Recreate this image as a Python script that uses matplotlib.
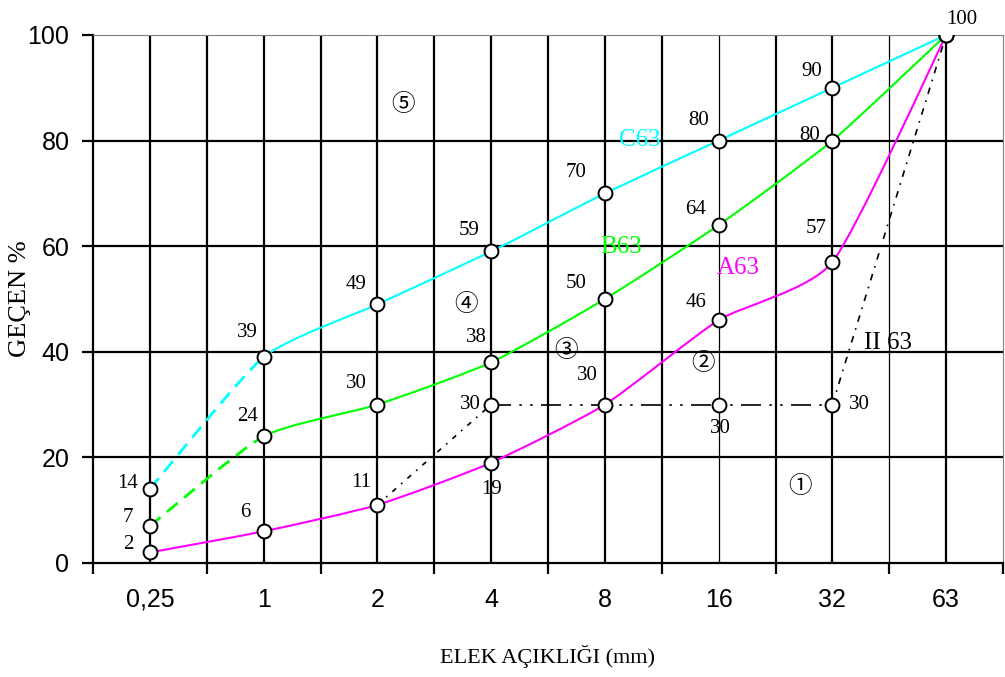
import numpy as np
import matplotlib
matplotlib.use("Agg")
import matplotlib.pyplot as plt
from matplotlib.path import Path
from matplotlib.patches import PathPatch

# sieve sizes (mm) and passing percentages
sieves = ["0,25", "1", "2", "4", "8", "16", "32", "63"]
a63 = [2, 6, 11, 19, 30, 46, 57, 100]
b63 = [7, 24, 30, 38, 50, 64, 80, 100]
c63 = [14, 39, 49, 59, 70, 80, 90, 100]
# discontinuous grading II 63: sieve index -> passing
ii_x = [2, 3, 4, 5, 6, 7]
ii_y = [11, 30, 30, 30, 30, 100]

# label offsets in pixels (dx, dy) for each value
off_c = [(-22, 6), (-16, 25), (-21, 20), (-22, 21), (-29, 21), (-20, 20), (-21, 16), (16, 15)]
off_b = [(-22, 9), (-16, 20), (-21, 21), (-15, 25), (-29, 16), (-23, 16), (-23, 5), None]
off_a = [(-22, 8), (-18, 19), (-16, 22), (0, -27), (-18, 29), (-23, 18), (-16, 34), None]

CYAN, GREEN, MAGENTA = "#00ffff", "#00ff00", "#ff00ff"
SERIF = ["Liberation Serif", "DejaVu Sans", "Noto Sans CJK JP"]

fig = plt.figure(figsize=(10.05, 6.77), dpi=100)
ax = fig.add_axes([93 / 1005, 114 / 677, 910 / 1005, 528 / 677])
ax.set_xlim(-0.5, 7.5)
ax.set_ylim(0, 100)


def smooth_segments(xs, ys, k=10.0):
    # soft catmull-rom segments as cubic bezier control points
    p = np.column_stack([xs, ys]).astype(float)
    p = np.vstack([p[0], p, p[-1]])
    segs = []
    for i in range(1, len(p) - 2):
        c1 = p[i] + (p[i + 1] - p[i - 1]) / k
        c2 = p[i + 1] - (p[i + 2] - p[i]) / k
        segs.append([p[i], c1, c2, p[i + 1]])
    return segs


def draw_curve(ys, color):
    xs = np.arange(len(ys))
    for i, seg in enumerate(smooth_segments(xs, ys)):
        path = Path(seg, [Path.MOVETO, Path.CURVE4, Path.CURVE4, Path.CURVE4])
        dashed = i == 0 and color != MAGENTA
        ax.add_patch(PathPatch(path, fill=False, edgecolor=color,
                               lw=2.0 if dashed else 1.5,
                               linestyle=(0, (5, 3)) if dashed else "-", zorder=3))
    ax.plot(xs, ys, "o", ms=10, mfc="white", mec="black", mew=1.4, zorder=5)


draw_curve(c63, CYAN)
draw_curve(b63, GREEN)
draw_curve(a63, MAGENTA)

# grading II 63 with broken line styles
ax.plot(ii_x[0:2], ii_y[0:2], color="black", lw=1.2, ls=(0, (3, 4, 1, 4)), zorder=2)
ax.plot(ii_x[1:5], ii_y[1:5], color="black", lw=1.2,
        ls=(0, (12, 5, 1.5, 5, 1.5, 5)), zorder=2)
ax.plot(ii_x[4:6], ii_y[4:6], color="black", lw=1.2, ls=(0, (4, 4, 1, 4)), zorder=2)
ax.plot([3, 5, 6], [30, 30, 30], "o", ms=10, mfc="white", mec="black", mew=1.4, zorder=5)


def put_labels(ys, offs):
    for i, (y, o) in enumerate(zip(ys, offs)):
        if o is None:
            continue
        ax.annotate(str(y), (i, y), xytext=o, textcoords="offset pixels",
                    ha="center", va="center", fontsize=15, family=SERIF, zorder=6)


put_labels(c63, off_c)
put_labels(b63, off_b)
put_labels(a63, off_a)
for (x, y), o in zip([(3, 30), (5, 30), (6, 30)], [(-21, 0), (2, -24), (27, 0)]):
    ax.annotate(str(y), (x, y), xytext=o, textcoords="offset pixels",
                ha="center", va="center", fontsize=15, family=SERIF, zorder=6)

# curve names and zone numbers
ax.text(4.31, 80.1, "C63", color=CYAN, fontsize=18, family=SERIF, ha="center", va="center")
ax.text(4.14, 59.8, "B63", color=GREEN, fontsize=18, family=SERIF, ha="center", va="center")
ax.text(5.17, 55.9, "A63", color=MAGENTA, fontsize=18, family=SERIF, ha="center", va="center")
ax.text(6.49, 41.7, "II 63", color="black", fontsize=18, family=SERIF, ha="center", va="center")
zones = ["\u2460", "\u2461", "\u2462", "\u2463", "\u2464"]
zone_xy = [(5.72, 14.4), (4.86, 37.8), (3.66, 40.3), (2.78, 48.9), (2.23, 86.9)]
for z, (x, y) in zip(zones, zone_xy):
    ax.text(x, y, z, fontsize=17, family=["Noto Sans CJK JP", "DejaVu Sans"],
            ha="center", va="center", zorder=4)

# grid every half sieve step
for gx in np.arange(0, 7.5, 0.5):
    ax.axvline(gx, color="black", lw=0.9 if gx in (5.0, 6.5) else 1.6, zorder=1)
for gy in [20, 40, 60, 80]:
    ax.axhline(gy, color="black", lw=1.6, zorder=1)

ax.spines["top"].set_color("#808080")
ax.spines["right"].set_color("#808080")
ax.spines["left"].set_linewidth(1.6)
ax.spines["bottom"].set_linewidth(1.6)

ax.set_xticks(np.arange(-0.5, 8, 1.0))
ax.set_xticklabels([])
ax.set_xticks(np.arange(8), minor=True)
ax.set_xticklabels(sieves, minor=True, family="Liberation Sans", fontsize=18)
ax.tick_params(axis="x", which="major", length=8, width=1.6, direction="out")
ax.tick_params(axis="x", which="minor", length=0, pad=18)
ax.set_yticks([0, 20, 40, 60, 80, 100])
ax.tick_params(axis="y", length=8, width=1.6, pad=9, labelsize=18)
for t in ax.get_yticklabels():
    t.set_family("Liberation Sans")

ax.set_xlabel("ELEK AÇIKLIĞI (mm)", family=SERIF, fontsize=16, va="center")
ax.xaxis.set_label_coords(0.5, -0.178)
ax.set_ylabel("GEÇEN %", family=SERIF, fontsize=19, va="center")
ax.yaxis.set_label_coords(-0.08, 0.5)

fig.savefig("out.png", dpi=100)
